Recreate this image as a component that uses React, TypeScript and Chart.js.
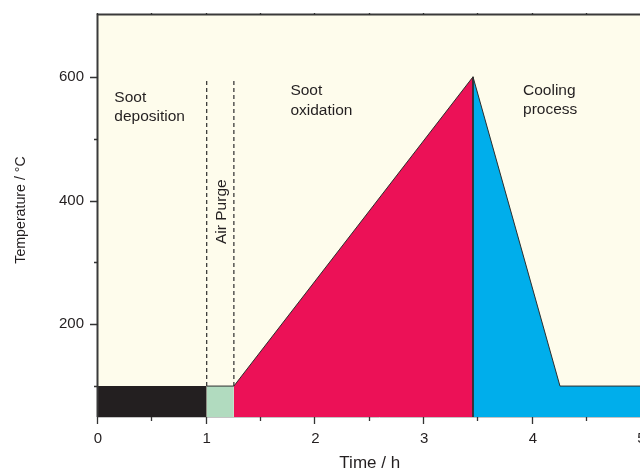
import React, { useEffect, useRef } from 'react';
import { Chart, registerables } from 'chart.js';

Chart.register(...registerables);

// ---- axis ranges & ticks ----
const X_MIN = 0;
const X_MAX = 5;
const Y_MIN = 50;
const Y_MAX = 700;
const xTickValues = [0, 1, 2, 3, 4, 5];
const xMinorTicks = [0.5, 1.5, 2.5, 3.5, 4.5];
const yTickValues = [200, 400, 600];
const yMinorTicks = [100, 300, 500];

// ---- temperature programme (time in h, temperature in °C) ----
const depositionTime = [0, 1];
const depositionTemp = [100, 100];
const purgeTime = [1, 1.25];
const purgeTemp = [100, 100];
const oxidationTime = [1.25, 3.45, 3.45];
const oxidationTemp = [100, 600, Y_MIN];
const coolingTime = [3.45, 4.25, 5];
const coolingTemp = [600, 100, 100];
const purgeMarkerTimes = [1.0, 1.25];
const purgeMarkerTemps = [100, 595];

// ---- phase labels (data coordinates) ----
const phaseLabelText = [['Soot', 'deposition'], ['Soot', 'oxidation'], ['Cooling', 'process']];
const phaseLabelTime = [0.15, 1.77, 3.91];
const phaseLabelTemp = [560, 570, 571];
const purgeLabel = 'Air Purge';
const purgeLabelTime = 1.14;
const purgeLabelTemp = 382;

const xTitle = 'Time / h';
const yTitle = 'Temperature / °C';

const FONT = "'Liberation Sans', Arial, Helvetica, sans-serif";
const TEXT = '#231F20';
const CREAM = '#FEFCEC';

const pts = (xs: number[], ys: number[]) => xs.map((x, i) => ({ x, y: ys[i] }));

const framePlugin = {
  id: 'frame',
  beforeDraw(chart: any) {
    const { ctx, chartArea: a } = chart;
    ctx.save();
    ctx.fillStyle = CREAM;
    ctx.fillRect(a.left, a.top, a.right - a.left, a.bottom - a.top);
    ctx.restore();
  },
  afterDraw(chart: any) {
    const { ctx, chartArea: a } = chart;
    const xs = chart.scales.x;
    const ys = chart.scales.y;
    ctx.save();
    // bottom axis line (light)
    ctx.strokeStyle = '#c4c4c4';
    ctx.lineWidth = 1;
    ctx.beginPath();
    ctx.moveTo(a.left, a.bottom + 0.5);
    ctx.lineTo(a.right + 20, a.bottom + 0.5);
    ctx.stroke();
    // left + top axis lines
    ctx.strokeStyle = '#3a3a3a';
    ctx.lineWidth = 2;
    ctx.beginPath();
    ctx.moveTo(a.left - 0.5, a.bottom);
    ctx.lineTo(a.left - 0.5, a.top - 1);
    ctx.moveTo(a.left - 1.5, a.top - 0.5);
    ctx.lineTo(a.right + 20, a.top - 0.5);
    ctx.stroke();
    // ticks
    ctx.lineWidth = 1.3;
    ctx.strokeStyle = '#333';
    ctx.beginPath();
    xTickValues.forEach((v) => {
      const px = Math.round(xs.getPixelForValue(v)) - 0.5;
      ctx.moveTo(px, a.bottom);
      ctx.lineTo(px, a.bottom + 7);
      ctx.moveTo(px, a.top);
      ctx.lineTo(px, a.top - 2);
    });
    xMinorTicks.forEach((v) => {
      const px = Math.round(xs.getPixelForValue(v)) - 0.5;
      ctx.moveTo(px, a.bottom);
      ctx.lineTo(px, a.bottom + 4);
      ctx.moveTo(px, a.top);
      ctx.lineTo(px, a.top - 2);
    });
    yTickValues.forEach((v) => {
      const py = Math.round(ys.getPixelForValue(v)) + 0.5;
      ctx.moveTo(a.left, py);
      ctx.lineTo(a.left - 8, py);
    });
    yMinorTicks.forEach((v) => {
      const py = Math.round(ys.getPixelForValue(v)) + 0.5;
      ctx.moveTo(a.left, py);
      ctx.lineTo(a.left - 4, py);
    });
    ctx.stroke();

    // phase labels
    ctx.fillStyle = TEXT;
    ctx.font = `15.5px ${FONT}`;
    ctx.textAlign = 'left';
    ctx.textBaseline = 'alphabetic';
    phaseLabelText.forEach((lines, i) => {
      const px = xs.getPixelForValue(phaseLabelTime[i]);
      const py = ys.getPixelForValue(phaseLabelTemp[i]);
      lines.forEach((t, j) => ctx.fillText(t, px, py + j * 19.5));
    });
    // rotated purge label
    ctx.save();
    ctx.translate(xs.getPixelForValue(purgeLabelTime), ys.getPixelForValue(purgeLabelTemp));
    ctx.rotate(-Math.PI / 2);
    ctx.textAlign = 'center';
    ctx.textBaseline = 'middle';
    ctx.fillText(purgeLabel, 0, 0);
    ctx.restore();

    // axis titles
    ctx.font = `17px ${FONT}`;
    ctx.textAlign = 'center';
    ctx.textBaseline = 'middle';
    ctx.fillText(xTitle, (a.left + a.right) / 2, 463);
    ctx.save();
    ctx.translate(21, 210);
    ctx.rotate(-Math.PI / 2);
    ctx.font = `14.2px ${FONT}`;
    ctx.fillText(yTitle, 0, 0);
    ctx.restore();
    ctx.restore();
  },
};

export default function App() {
  const ref = useRef<HTMLCanvasElement>(null);
  useEffect(() => {
    const canvas = ref.current!;
    const edge = '#2e2e2e';
    const chart = new Chart(canvas, {
      type: 'line',
      data: {
        datasets: [
          {
            label: 'purge start',
            data: purgeMarkerTemps.map((y) => ({ x: purgeMarkerTimes[0], y })),
            borderColor: '#2b2b2b',
            borderWidth: 1.2,
            borderDash: [4, 3],
            fill: false,
            pointRadius: 0,
          },
          {
            label: 'purge end',
            data: purgeMarkerTemps.map((y) => ({ x: purgeMarkerTimes[1], y })),
            borderColor: '#2b2b2b',
            borderWidth: 1.2,
            borderDash: [4, 3],
            fill: false,
            pointRadius: 0,
          },
          {
            label: 'Soot deposition',
            data: pts(depositionTime, depositionTemp),
            borderColor: '#231F20',
            backgroundColor: '#231F20',
            borderWidth: 0,
            fill: 'start',
            pointRadius: 0,
          },
          {
            label: 'Air purge',
            data: pts(purgeTime, purgeTemp),
            borderColor: edge,
            backgroundColor: '#B1DBBF',
            borderWidth: 1,
            fill: 'start',
            pointRadius: 0,
          },
          {
            label: 'Soot oxidation',
            data: pts(oxidationTime, oxidationTemp),
            borderColor: edge,
            backgroundColor: '#EC1157',
            borderWidth: 1,
            fill: 'start',
            pointRadius: 0,
          },
          {
            label: 'Cooling process',
            data: pts(coolingTime, coolingTemp),
            borderColor: edge,
            backgroundColor: '#00AEEB',
            borderWidth: 1,
            fill: 'start',
            pointRadius: 0,
          },
        ],
      },
      options: {
        responsive: false,
        maintainAspectRatio: false,
        animation: false,
        layout: { padding: { left: 0, top: 15, right: 18.5, bottom: 0 } },
        elements: { line: { tension: 0 } },
        plugins: { legend: { display: false }, tooltip: { enabled: false } },
        scales: {
          x: {
            type: 'linear',
            min: X_MIN,
            max: X_MAX,
            grid: { display: false, drawTicks: false },
            border: { display: false },
            ticks: { color: TEXT, font: { family: FONT, size: 15 }, padding: 13, maxRotation: 0 },
            afterBuildTicks: (s: any) => {
              s.ticks = xTickValues.map((v) => ({ value: v }));
            },
            afterFit: (s: any) => {
              s.height = 56;
              s.paddingLeft = 0;
              s.paddingRight = 0;
            },
          },
          y: {
            type: 'linear',
            min: Y_MIN,
            max: Y_MAX,
            grid: { display: false, drawTicks: false },
            border: { display: false },
            ticks: { color: TEXT, font: { family: FONT, size: 15 }, padding: 14 },
            afterBuildTicks: (s: any) => {
              s.ticks = yTickValues.map((v) => ({ value: v }));
            },
            afterFit: (s: any) => {
              s.width = 98;
              s.paddingTop = 0;
              s.paddingBottom = 0;
            },
          },
        },
      },
      plugins: [framePlugin],
    });
    return () => chart.destroy();
  }, []);

  return (
    <div style={{ position: 'absolute', left: 0, top: 0, width: 640, height: 473, overflow: 'hidden', background: '#fff' }}>
      <canvas ref={ref} width={660} height={473} style={{ display: 'block' }} />
    </div>
  );
}
